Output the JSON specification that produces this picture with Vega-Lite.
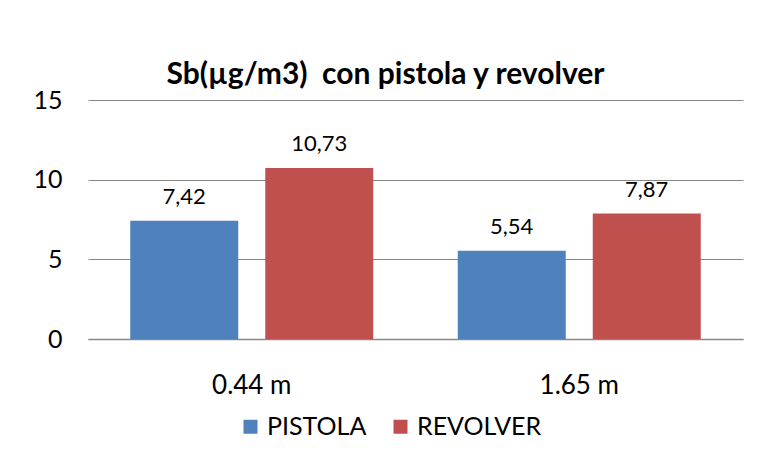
{
  "$schema": "https://vega.github.io/schema/vega-lite/v6.json",
  "autosize": {"type": "none"},
  "width": 655,
  "height": 239,
  "padding": {"left": 88, "top": 100, "right": 14, "bottom": 119},
  "background": "white",
  "title": {
    "text": "Sb(µg/m3)\u00a0\u00a0con pistola y revolver",
    "font": "Lato",
    "fontSize": 30,
    "fontWeight": "bold",
    "color": "#000000",
    "anchor": "middle",
    "dx": -30,
    "offset": -2
  },
  "data": {
    "values": [
      {"dist": "0.44 m", "arma": "PISTOLA", "valor": 7.42, "label": "7,42"},
      {"dist": "0.44 m", "arma": "REVOLVER", "valor": 10.73, "label": "10,73"},
      {"dist": "1.65 m", "arma": "PISTOLA", "valor": 5.54, "label": "5,54"},
      {"dist": "1.65 m", "arma": "REVOLVER", "valor": 7.87, "label": "7,87"}
    ]
  },
  "encoding": {
    "x": {
      "field": "dist",
      "type": "nominal",
      "title": null,
      "scale": {"paddingInner": 0.258, "paddingOuter": 0.129},
      "axis": {
        "labelAngle": 0,
        "labelFont": "Lato",
        "labelFontSize": 26,
        "labelColor": "#000000",
        "labelPadding": 33,
        "ticks": false,
        "domainColor": "#878787",
        "domainWidth": 1.5,
        "grid": false
      }
    },
    "xOffset": {
      "field": "arma",
      "type": "nominal",
      "scale": {"paddingInner": 0.2, "paddingOuter": 0}
    },
    "y": {
      "field": "valor",
      "type": "quantitative",
      "title": null,
      "scale": {"domain": [0, 15]},
      "axis": {
        "values": [0, 5, 10, 15],
        "labelFont": "Lato",
        "labelFontSize": 25,
        "labelColor": "#000000",
        "labelPadding": 26,
        "ticks": false,
        "domain": false,
        "gridColor": "#878787",
        "gridWidth": 1.2
      }
    }
  },
  "layer": [
    {
      "mark": {"type": "bar"},
      "encoding": {
        "color": {
          "field": "arma",
          "type": "nominal",
          "title": null,
          "scale": {"domain": ["PISTOLA", "REVOLVER"], "range": ["#4F81BD", "#C0504D"]},
          "legend": {
            "orient": "none",
            "legendX": 150,
            "legendY": 314,
            "direction": "horizontal",
            "symbolType": "square",
            "symbolSize": 196,
            "symbolStrokeWidth": 0,
            "labelFont": "Lato",
            "labelFontSize": 25,
            "labelColor": "#000000",
            "columnPadding": 21,
            "labelOffset": 4
          }
        }
      }
    },
    {
      "mark": {"type": "text", "baseline": "bottom", "dy": -12, "font": "Lato", "fontSize": 22, "color": "#000000"},
      "encoding": {"text": {"field": "label"}}
    }
  ],
  "config": {"view": {"stroke": null}}
}
